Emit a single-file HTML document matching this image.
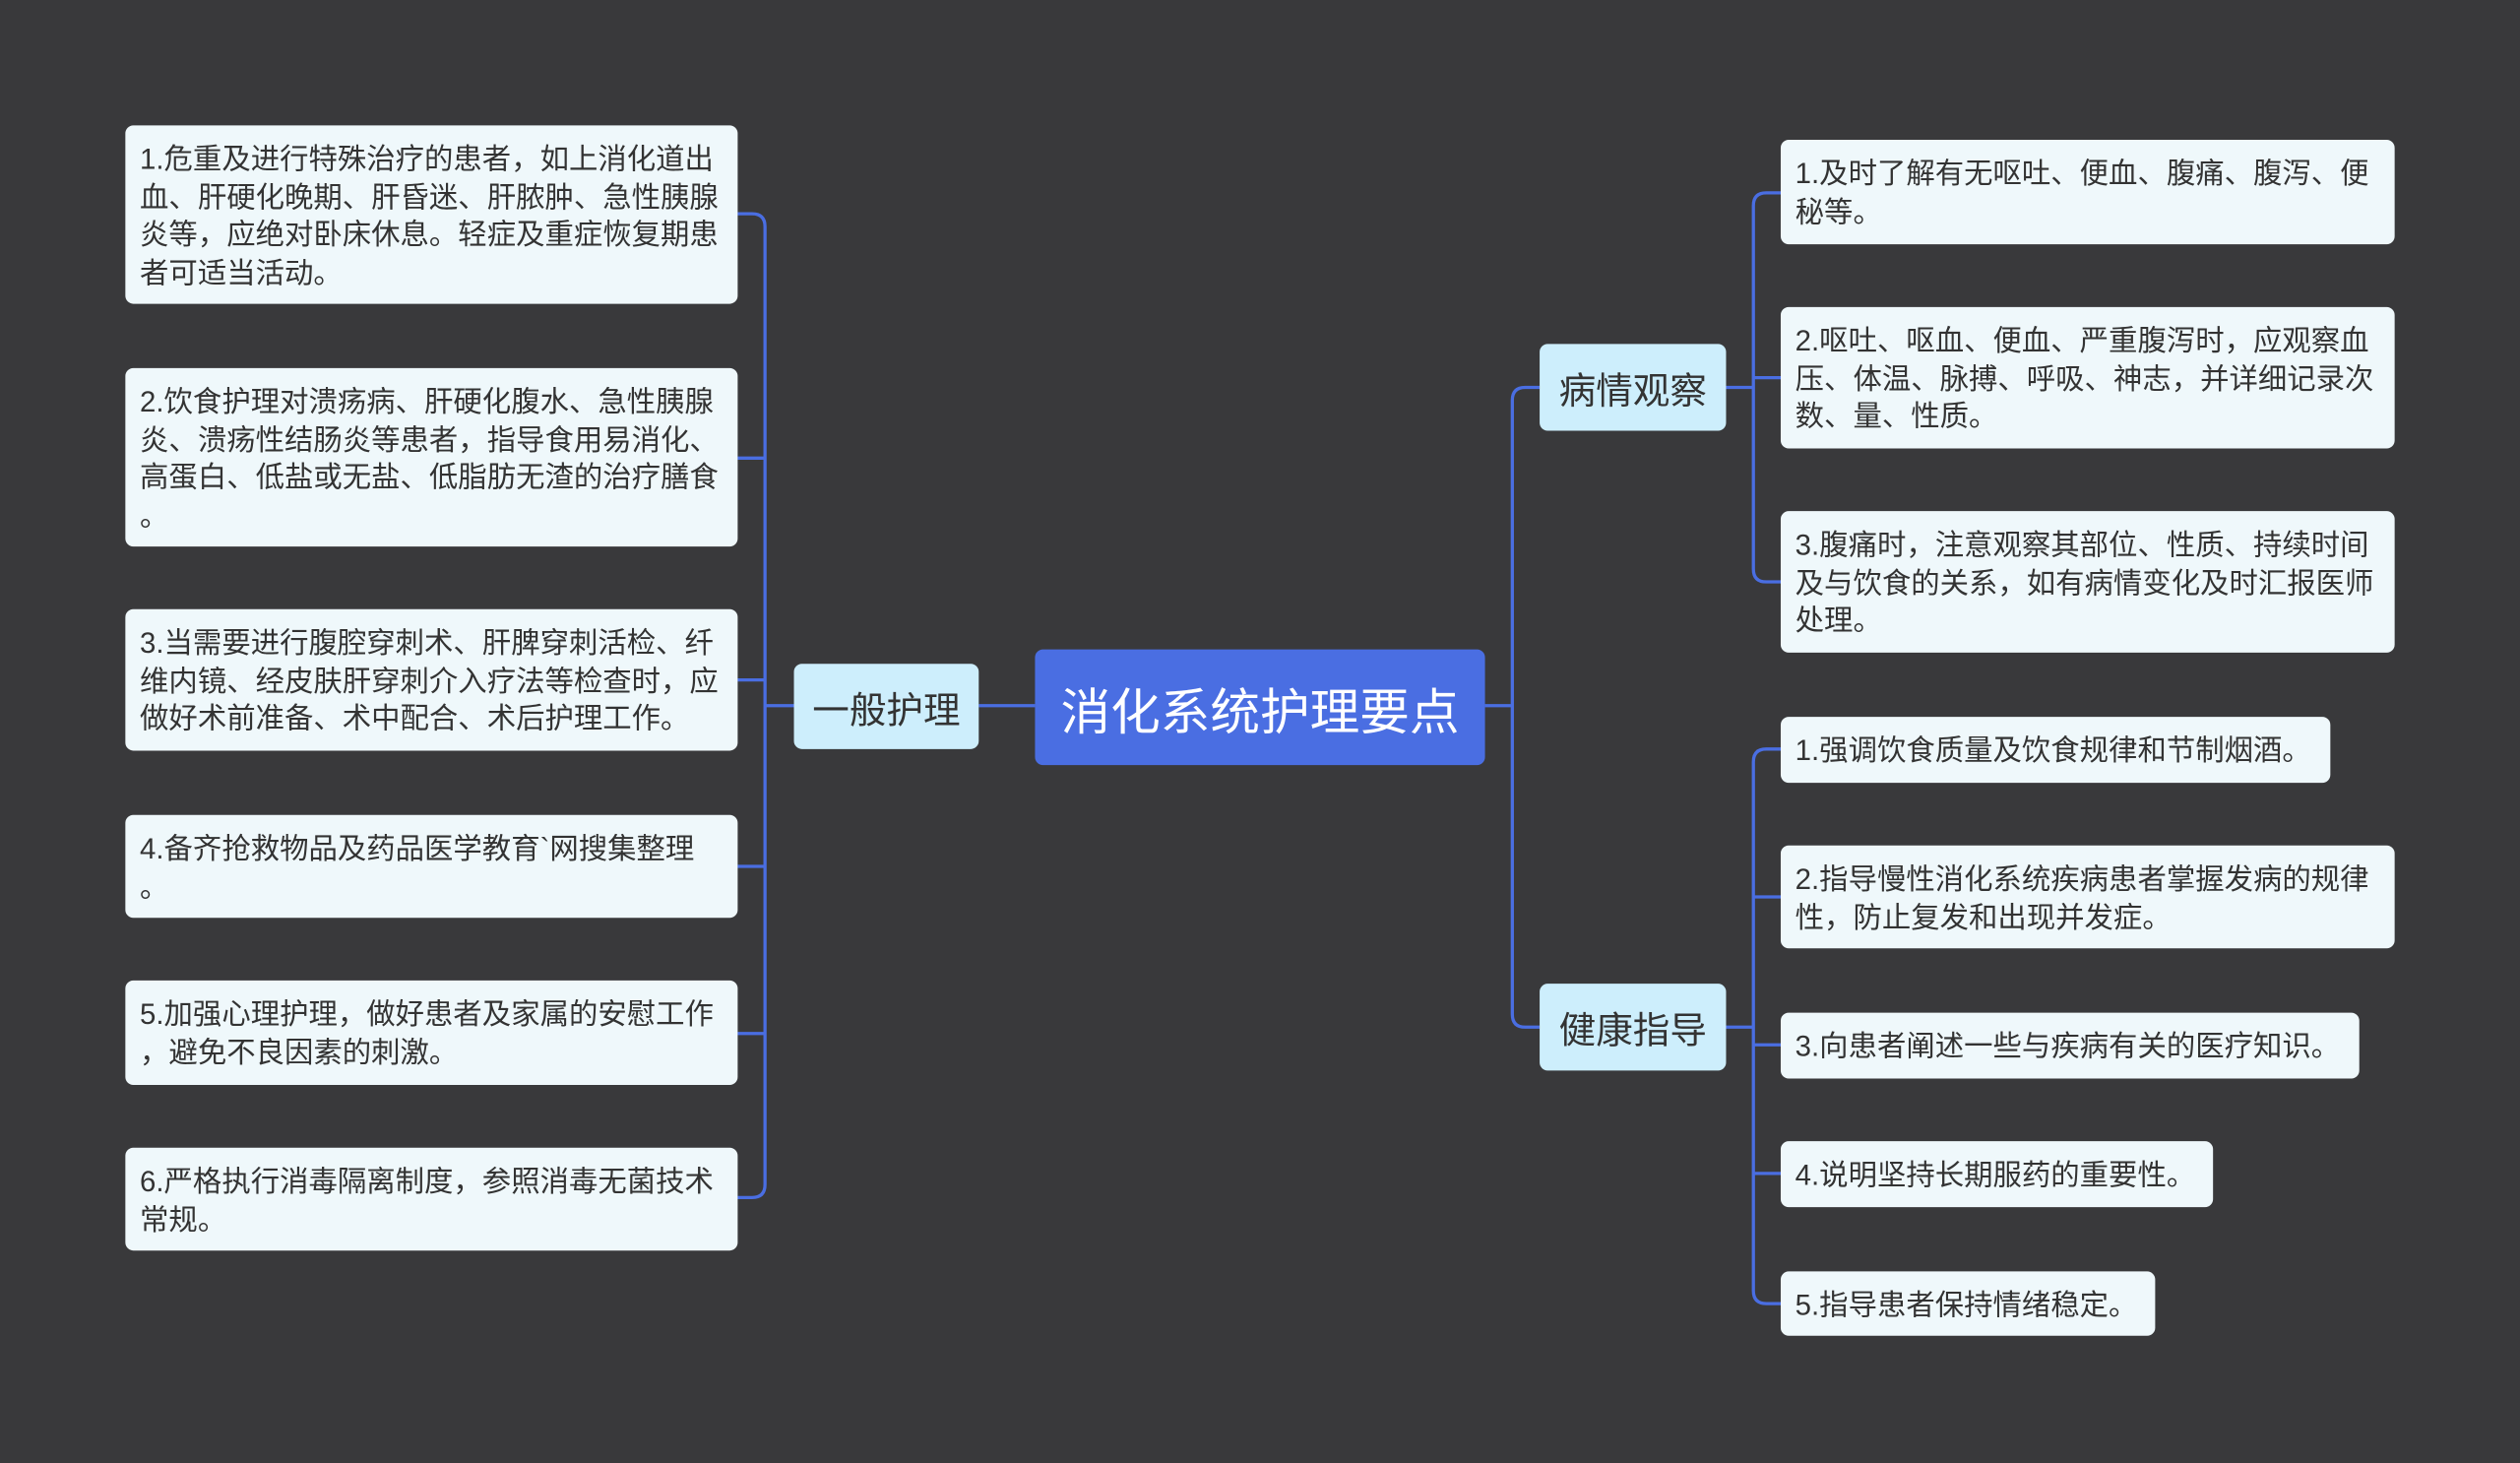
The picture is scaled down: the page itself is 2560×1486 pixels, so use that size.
<!DOCTYPE html>
<html><head><meta charset="utf-8">
<style>
html,body{margin:0;padding:0;width:2560px;height:1486px;overflow:hidden;background:#39393b;}
#w{position:absolute;left:0;top:0;width:1568px;height:910px;transform:scale(1.63265);transform-origin:0 0;font-family:"Liberation Sans","Noto Sans CJK SC",sans-serif;}
.n{position:absolute;box-sizing:border-box;border-radius:5px;}
.leaf{background:#eff8fb;color:#333;font-size:18px;line-height:23.5px;padding:10px 9px 0;white-space:nowrap;}
.sub{background:#cdeefc;color:#333;font-size:23px;display:flex;align-items:center;justify-content:center;}
.root{background:#4a6ee2;color:#fff;font-size:31px;display:flex;align-items:center;justify-content:center;}
svg{position:absolute;left:0;top:0;}
</style></head><body><div id="w">
<svg width="1568" height="910" fill="none" stroke="#4a6ee2" stroke-width="2">
<path d="M609 439H644"/>
<path d="M494 439H476"/>
<path d="M459 133H468Q476 133 476 141V737Q476 745 468 745H459"/>
<path d="M459 285H476M459 423H476M459 539H476M459 643H476"/>
<path d="M924 439H941"/>
<path d="M958 241H949Q941 241 941 249V631Q941 639 949 639H958"/>
<path d="M1074 241H1091M1074 639H1091"/>
<path d="M1108 120H1099Q1091 120 1091 128V354Q1091 362 1099 362H1108"/>
<path d="M1091 235H1108"/>
<path d="M1108 466H1099Q1091 466 1091 474V803Q1091 811 1099 811H1108"/>
<path d="M1091 558H1108M1091 650H1108M1091 730H1108"/>
</svg>
<div class="n root" style="left:644px;top:404px;width:280px;height:72px;">消化系统护理要点</div>
<div class="n sub" style="left:494px;top:413px;width:115px;height:53px;">一般护理</div>
<div class="n sub" style="left:958px;top:214px;width:116px;height:54px;">病情观察</div>
<div class="n sub" style="left:958px;top:612px;width:116px;height:54px;">健康指导</div>

<div class="n leaf" style="left:78px;top:78px;width:381px;height:111px;">1.危重及进行特殊治疗的患者，如上消化道出<br>血、肝硬化晚期、肝昏迷、肝脓肿、急性胰腺<br>炎等，应绝对卧床休息。轻症及重症恢复期患<br>者可适当活动。</div>
<div class="n leaf" style="left:78px;top:229px;width:381px;height:111px;">2.饮食护理对溃疡病、肝硬化腹水、急性胰腺<br>炎、溃疡性结肠炎等患者，指导食用易消化、<br>高蛋白、低盐或无盐、低脂肪无渣的治疗膳食<br>。</div>
<div class="n leaf" style="left:78px;top:379px;width:381px;height:88px;">3.当需要进行腹腔穿刺术、肝脾穿刺活检、纤<br>维内镜、经皮肤肝穿刺介入疗法等检查时，应<br>做好术前准备、术中配合、术后护理工作。</div>
<div class="n leaf" style="left:78px;top:507px;width:381px;height:64px;">4.备齐抢救物品及药品医学教育`网搜集整理<br>。</div>
<div class="n leaf" style="left:78px;top:610px;width:381px;height:65px;">5.加强心理护理，做好患者及家属的安慰工作<br>，避免不良因素的刺激。</div>
<div class="n leaf" style="left:78px;top:714px;width:381px;height:64px;">6.严格执行消毒隔离制度，参照消毒无菌技术<br>常规。</div>

<div class="n leaf" style="left:1108px;top:87px;width:382px;height:65px;">1.及时了解有无呕吐、便血、腹痛、腹泻、便<br>秘等。</div>
<div class="n leaf" style="left:1108px;top:191px;width:382px;height:88px;">2.呕吐、呕血、便血、严重腹泻时，应观察血<br>压、体温、脉搏、呼吸、神志，并详细记录次<br>数、量、性质。</div>
<div class="n leaf" style="left:1108px;top:318px;width:382px;height:88px;">3.腹痛时，注意观察其部位、性质、持续时间<br>及与饮食的关系，如有病情变化及时汇报医师<br>处理。</div>

<div class="n leaf" style="left:1108px;top:446px;width:342px;height:41px;">1.强调饮食质量及饮食规律和节制烟酒。</div>
<div class="n leaf" style="left:1108px;top:526px;width:382px;height:64px;">2.指导慢性消化系统疾病患者掌握发病的规律<br>性，防止复发和出现并发症。</div>
<div class="n leaf" style="left:1108px;top:630px;width:360px;height:41px;">3.向患者阐述一些与疾病有关的医疗知识。</div>
<div class="n leaf" style="left:1108px;top:710px;width:269px;height:41px;">4.说明坚持长期服药的重要性。</div>
<div class="n leaf" style="left:1108px;top:791px;width:233px;height:40px;">5.指导患者保持情绪稳定。</div>
</div></body></html>
